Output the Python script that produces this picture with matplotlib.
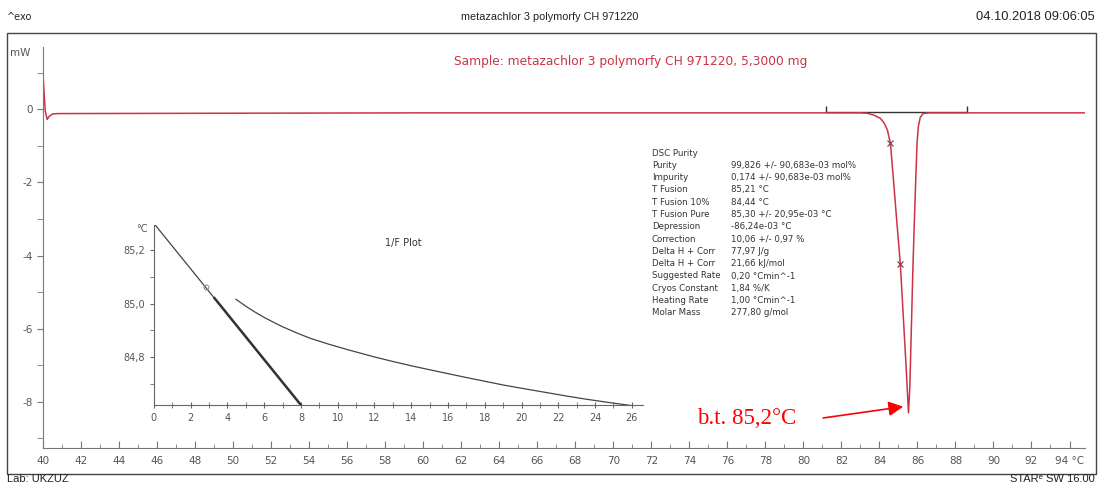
import numpy as np
import matplotlib.pyplot as plt
from matplotlib.patches import Rectangle, FancyArrowPatch
from matplotlib.ticker import MultipleLocator, FuncFormatter

# DSC curve, heat flow (mW) vs temperature (°C)
temp = [40.02, 40.06, 40.12, 40.22, 40.32, 40.5, 40.8, 50.0, 60.0, 70.0, 80.0, 83.0,
        83.35, 83.7, 84.05, 84.25, 84.42, 84.58, 84.75, 84.92, 85.1, 85.25, 85.4, 85.53,
        85.6, 85.68, 85.77, 85.88, 85.98, 86.05, 86.15, 86.3, 86.6, 90.0, 94.8]
heat = [0.8, 0.45, -0.05, -0.28, -0.2, -0.13, -0.12, -0.11, -0.1, -0.1, -0.1, -0.1,
        -0.11, -0.16, -0.25, -0.38, -0.57, -0.93, -2.0, -3.1, -4.23, -5.6, -7.0, -8.3,
        -7.6, -6.0, -4.2, -2.4, -0.93, -0.47, -0.22, -0.12, -0.1, -0.1, -0.1]

# integration limits
base_t = [81.2, 88.6]
base_h = [-0.08, -0.08]

# 1/F plot
fit_x = [0.0, 8.0]
fit_y = [85.30, 84.62]
used_x = [3.3, 8.0]
used_y = [85.02, 84.62]
inv_f = [4.46, 5.0, 5.5, 6.0, 6.5, 7.0, 7.77, 8.5, 9.5, 10.5, 12.0, 13.0, 14.0, 15.0,
         16.1, 17.0, 18.0, 19.0, 20.4, 21.5, 22.5, 23.5, 24.9, 26.2]
t_s = [85.016, 84.99, 84.968, 84.948, 84.93, 84.913, 84.89, 84.87, 84.848, 84.828,
       84.80, 84.783, 84.767, 84.752, 84.736, 84.723, 84.709, 84.695, 84.678, 84.665,
       84.653, 84.642, 84.628, 84.616]

names = ["DSC Purity", "Purity", "Impurity", "T Fusion", "T Fusion 10%", "T Fusion Pure",
         "Depression", "Correction", "Delta H + Corr", "Delta H + Corr", "Suggested Rate",
         "Cryos Constant", "Heating Rate", "Molar Mass"]
values = ["", "99,826 +/- 90,683e-03 mol%", "0,174 +/- 90,683e-03 mol%", "85,21 °C",
          "84,44 °C", "85,30 +/- 20,95e-03 °C", "-86,24e-03 °C", "10,06 +/- 0,97 %",
          "77,97 J/g", "21,66 kJ/mol", "0,20 °Cmin^-1", "1,84 %/K", "1,00 °Cmin^-1",
          "277,80 g/mol"]

red = '#cc3344'
grey = '#555555'
plt.rcParams['font.family'] = ['DejaVu Sans']
plt.rcParams['axes.unicode_minus'] = False

fig = plt.figure(figsize=(10.99, 4.88), dpi=100)

# page header and frame
fig.text(0.006, 0.965, "^exo", fontsize=7, color='#222222', va='center')
fig.text(0.5, 0.965, "metazachlor 3 polymorfy CH 971220", fontsize=7.8, color='#222222',
         ha='center', va='center', family='Liberation Sans')
fig.text(0.996, 0.965, "04.10.2018 09:06:05", fontsize=9.3, color='#222222',
         ha='right', va='center', family='Liberation Sans')
fig.text(0.006, 0.012, "Lab: UKZUZ", fontsize=8, color='#222222', family='Liberation Sans')
fig.text(0.996, 0.012, "STARᵉ SW 16.00", fontsize=8, color='#222222', ha='right',
         family='Liberation Sans')
fig.patches.append(Rectangle((0.006, 0.029), 0.991, 0.904, transform=fig.transFigure,
                             fill=False, ec='#444444', lw=1.0))

ax = fig.add_axes([0.0391, 0.082, 0.9479, 0.8217])
ax.plot(base_t, base_h, color='#333333', lw=1.0)
ax.plot(base_t, [h + 0.08 for h in base_h], ls='none', marker='|', ms=4, color='#333333')
ax.plot(temp, heat, color=red, lw=1.1)
ax.plot([84.58, 85.1], [-0.93, -4.23], ls='none', marker='x', ms=4, color='#884455', mew=0.9)

ax.set_xlim(40, 94.8)
ax.set_ylim(-9.26, 1.7)
for s in ['top', 'right']:
    ax.spines[s].set_visible(False)
for s in ['left', 'bottom']:
    ax.spines[s].set_color('#777777')
ax.xaxis.set_major_locator(MultipleLocator(2))
ax.xaxis.set_minor_locator(MultipleLocator(1))
ax.yaxis.set_major_locator(MultipleLocator(2))
ax.yaxis.set_minor_locator(MultipleLocator(1))
ax.tick_params(axis='x', which='both', direction='in', colors='#777777', labelcolor=grey,
               labelsize=7.5, pad=6)
ax.tick_params(axis='x', which='major', length=5)
ax.tick_params(axis='x', which='minor', length=3)
ax.tick_params(axis='y', which='both', direction='out', colors='#777777', labelcolor=grey,
               labelsize=7.5, length=4)
ax.xaxis.set_major_formatter(FuncFormatter(lambda v, p: "94 °C" if round(v) == 94 else f"{v:.0f}"))
ax.set_xticks(np.arange(40, 95, 2))
ax.text(-0.012, 0.985, "mW", transform=ax.transAxes, ha='right', va='center',
        fontsize=7.5, color=grey)

ax.text(0.564, 0.965, "Sample: metazachlor 3 polymorfy CH 971220, 5,3000 mg",
        transform=ax.transAxes, ha='center', va='center', fontsize=8.8, color=red)

# purity results
for i, (n, v) in enumerate(zip(names, values)):
    y = 153 + i * 12.3
    fig.text(652 / 1099, 1 - y / 488, n, fontsize=6.2, color='#333333', va='center')
    fig.text(731 / 1099, 1 - y / 488, v, fontsize=6.2, color='#333333', va='center')

# melting point label
ax.text(74.4, -8.45, "b.t. 85,2°C", fontsize=16.5, color='red', family='Liberation Serif',
        ha='left', va='center')
ax.add_patch(FancyArrowPatch((80.9, -8.45), (85.4, -8.12), arrowstyle='-|>',
                             mutation_scale=22, color='red', lw=1.2))

# 1/F plot inset
ins = fig.add_axes([0.140, 0.170, 0.445, 0.369])
ins.patch.set_alpha(0)
ins.plot(fit_x, fit_y, color='#444444', lw=0.9)
ins.plot(used_x, used_y, color='#333333', lw=1.8)
ins.plot(inv_f, t_s, color='#444444', lw=0.9)
ins.plot([2.83], [85.06], marker='o', ms=3.5, mfc='none', mec='#888888', mew=0.7)
ins.set_xlim(0, 26.6)
ins.set_ylim(84.62, 85.294)
for s in ['top', 'right']:
    ins.spines[s].set_visible(False)
for s in ['left', 'bottom']:
    ins.spines[s].set_color('#666666')
ins.xaxis.set_major_locator(MultipleLocator(2))
ins.xaxis.set_minor_locator(MultipleLocator(1))
ins.yaxis.set_major_locator(MultipleLocator(0.2))
ins.yaxis.set_minor_locator(MultipleLocator(0.1))
ins.yaxis.set_major_formatter(FuncFormatter(lambda v, p: f"{v:.1f}".replace('.', ',')))
ins.tick_params(axis='x', which='both', direction='inout', colors='#666666', labelcolor=grey,
                labelsize=7, length=4)
ins.tick_params(axis='y', which='both', direction='out', colors='#666666', labelcolor=grey,
                labelsize=7, length=3)
ins.text(-0.012, 0.975, "°C", transform=ins.transAxes, ha='right', va='center',
         fontsize=7, color=grey)
ins.text(0.51, 0.9, "1/F Plot", transform=ins.transAxes, ha='center', va='center',
         fontsize=7, color='#333333')

fig.savefig("out.png", dpi=100)
